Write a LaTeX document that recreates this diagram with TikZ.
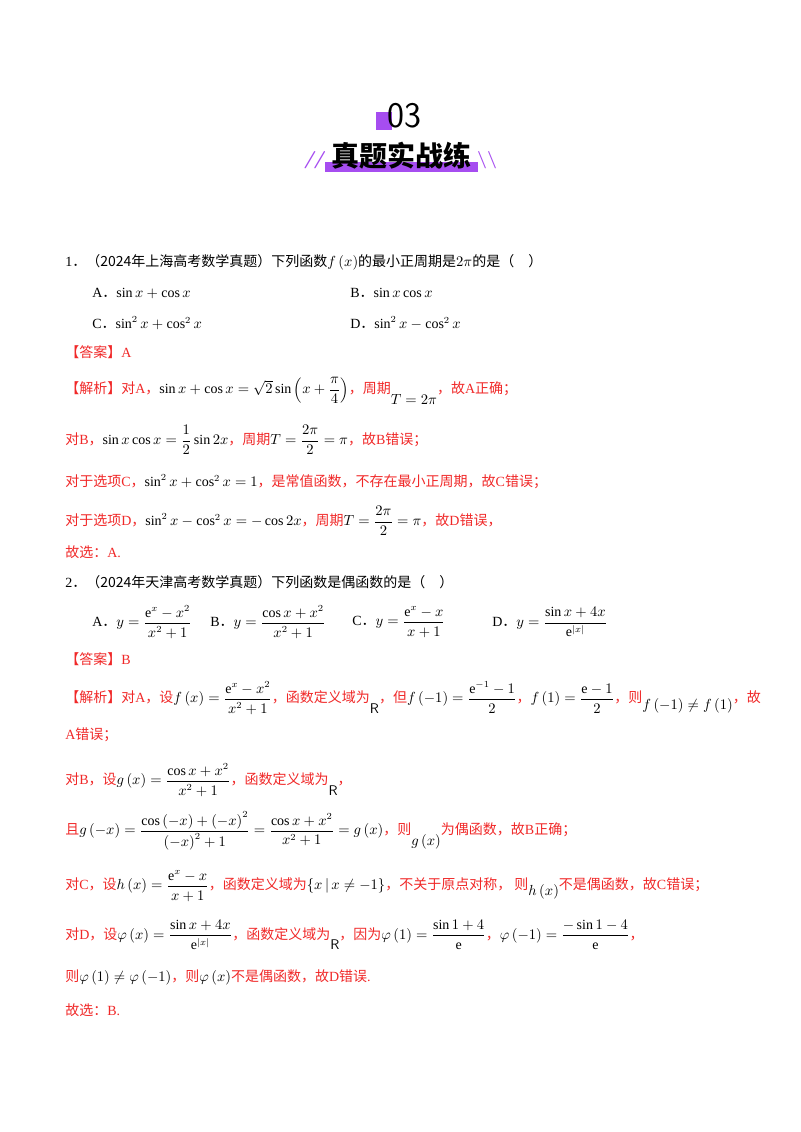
\documentclass[tikz,border=0pt]{standalone}
\usepackage{amsmath,amssymb}
\usepackage{fontspec}
\setmainfont{Liberation Serif}
\newfontfamily\cjk{Noto Sans CJK SC}
\newcommand{\cm}{{\cjk ，}}
\newcommand{\pd}{{\cjk ．}}
\definecolor{pur}{HTML}{A64DF0}
\definecolor{rd}{HTML}{F02828}
\begin{document}
\begin{tikzpicture}[x=0.75pt,y=-0.75pt,
  t/.style={anchor=west,inner sep=0pt,font=\fontsize{10.5}{12}\selectfont},
  r/.style={t,text=rd}]
\useasboundingbox (0,0) rectangle (800,1132);
\fill[pur] (376,112) rectangle (392,130);
\node[inner sep=0pt] (n03) at (404,116) {\fontsize{27}{27}\selectfont\sffamily 03};
\fill[pur] (325,162) rectangle (478,172);
\node[inner sep=0pt] (ttl) at (401,156) {\fontsize{21}{22}\selectfont\cjk\bfseries 真题实战练};
\node[inner sep=0pt,text=pur] (sl1) at (314,160) {\fontsize{13}{13}\selectfont\sffamily\bfseries\itshape //};
\node[inner sep=0pt,text=pur] (sl2) at (487,160) {\fontsize{13}{13}\selectfont\sffamily\bfseries \textbackslash\textbackslash};
\node[t] (q1) at (65,262) {1\pd{\cjk（2024年上海高考数学真题）下列函数}$f\left(x\right)${\cjk 的最小正周期是}$2\pi${\cjk 的是（\quad）}};
\node[t] (a1) at (92,293) {A\pd$\sin x+\cos x$};
\node[t] (b1) at (350,293) {B\pd$\sin x\cos x$};
\node[t] (c1) at (92,323) {C\pd$\sin^2x+\cos^2x$};
\node[t] (d1) at (350,323) {D\pd$\sin^2x-\cos^2x$};
\node[r] (ans1) at (65,352) {\cjk【答案】\rmfamily A};
\node[r] (j1) at (65,391) {{\cjk 【解析】对}A\cm\textcolor{black}{$\sin x+\cos x=\sqrt2\sin\left(x+\dfrac{\pi}{4}\right)$}{\cjk，周期}\raisebox{-8pt}{\textcolor{black}{$T=2\pi$}}{\cjk，故}A{\cjk 正确；}};
\node[r] (j2) at (65,440) {{\cjk 对}B\cm\textcolor{black}{$\sin x\cos x=\dfrac12\sin2x$}{\cjk，周期}\textcolor{black}{$T=\dfrac{2\pi}{2}=\pi$}{\cjk，故}B{\cjk 错误；}};
\node[r] (j3) at (65,482) {{\cjk 对于选项}C\cm\textcolor{black}{$\sin^2x+\cos^2x=1$}{\cjk，是常值函数，不存在最小正周期，故}C{\cjk 错误；}};
\node[r] (j4) at (65,521) {{\cjk 对于选项}D\cm\textcolor{black}{$\sin^2x-\cos^2x=-\cos2x$}{\cjk，周期}\textcolor{black}{$T=\dfrac{2\pi}{2}=\pi$}{\cjk，故}D{\cjk 错误，}};
\node[r] (g1) at (65,552) {{\cjk 故选：}A.};
\node[t] (q2) at (65,582) {2\pd{\cjk（2024年天津高考数学真题）下列函数是偶函数的是（\quad）}};
\node[t] (a2) at (92,622) {A\pd$y=\dfrac{\mathrm e^x-x^2}{x^2+1}$};
\node[t] (b2) at (210,622) {B\pd$y=\dfrac{\cos x+x^2}{x^2+1}$};
\node[t] (c2) at (352,622) {C\pd$y=\dfrac{\mathrm e^x-x}{x+1}$};
\node[t] (d2) at (492,622) {D\pd$y=\dfrac{\sin x+4x}{\mathrm e^{|x|}}$};
\node[r] (ans2) at (65,659) {\cjk【答案】\rmfamily B};
\node[r] (k1) at (65,698) {{\cjk 【解析】对}A\cm{\cjk 设}\textcolor{black}{$f\left(x\right)=\dfrac{\mathrm e^x-x^2}{x^2+1}$}{\cjk，函数定义域为}\raisebox{-8pt}{\textcolor{black}{\sffamily R}}{\cjk，但}\textcolor{black}{$f\left(-1\right)=\dfrac{\mathrm e^{-1}-1}{2}$}\cm\textcolor{black}{$f\left(1\right)=\dfrac{\mathrm e-1}{2}$}{\cjk，则}\raisebox{-5pt}{\textcolor{black}{$f\left(-1\right)\neq f\left(1\right)$}}{\cjk，故}};
\node[r] (k2) at (65,735) {A{\cjk 错误；}};
\node[r] (k3) at (65,780) {{\cjk 对}B\cm{\cjk 设}\textcolor{black}{$g\left(x\right)=\dfrac{\cos x+x^2}{x^2+1}$}{\cjk，函数定义域为}\raisebox{-8pt}{\textcolor{black}{\sffamily R}}{\cjk，}};
\node[r] (k4) at (65,831) {{\cjk 且}\textcolor{black}{$g\left(-x\right)=\dfrac{\cos\left(-x\right)+\left(-x\right)^2}{\left(-x\right)^2+1}=\dfrac{\cos x+x^2}{x^2+1}=g\left(x\right)$}{\cjk，则}\raisebox{-8pt}{\textcolor{black}{$g\left(x\right)$}}{\cjk 为偶函数，故}B{\cjk 正确；}};
\node[r] (k5) at (65,886) {{\cjk 对}C\cm{\cjk 设}\textcolor{black}{$h\left(x\right)=\dfrac{\mathrm e^x-x}{x+1}$}{\cjk，函数定义域为}\textcolor{black}{$\left\{x\,|\,x\neq-1\right\}$}{\cjk，不关于原点对称，\ 则}\raisebox{-4pt}{\textcolor{black}{$h\left(x\right)$}}{\cjk 不是偶函数，故}C{\cjk 错误；}};
\node[r] (k6) at (65,935) {{\cjk 对}D\cm{\cjk 设}\textcolor{black}{$\varphi\left(x\right)=\dfrac{\sin x+4x}{\mathrm e^{|x|}}$}{\cjk，函数定义域为}\raisebox{-8pt}{\textcolor{black}{\sffamily R}}{\cjk，因为}\textcolor{black}{$\varphi\left(1\right)=\dfrac{\sin1+4}{\mathrm e}$}\cm\textcolor{black}{$\varphi\left(-1\right)=\dfrac{-\sin1-4}{\mathrm e}$}\cm};
\node[r] (k7) at (65,977) {{\cjk 则}\textcolor{black}{$\varphi\left(1\right)\neq\varphi\left(-1\right)$}{\cjk，则}\textcolor{black}{$\varphi\left(x\right)$}{\cjk 不是偶函数，故}D{\cjk 错误}.};
\node[r] (g2) at (65,1010) {{\cjk 故选：}B.};
\end{tikzpicture}
\end{document}
